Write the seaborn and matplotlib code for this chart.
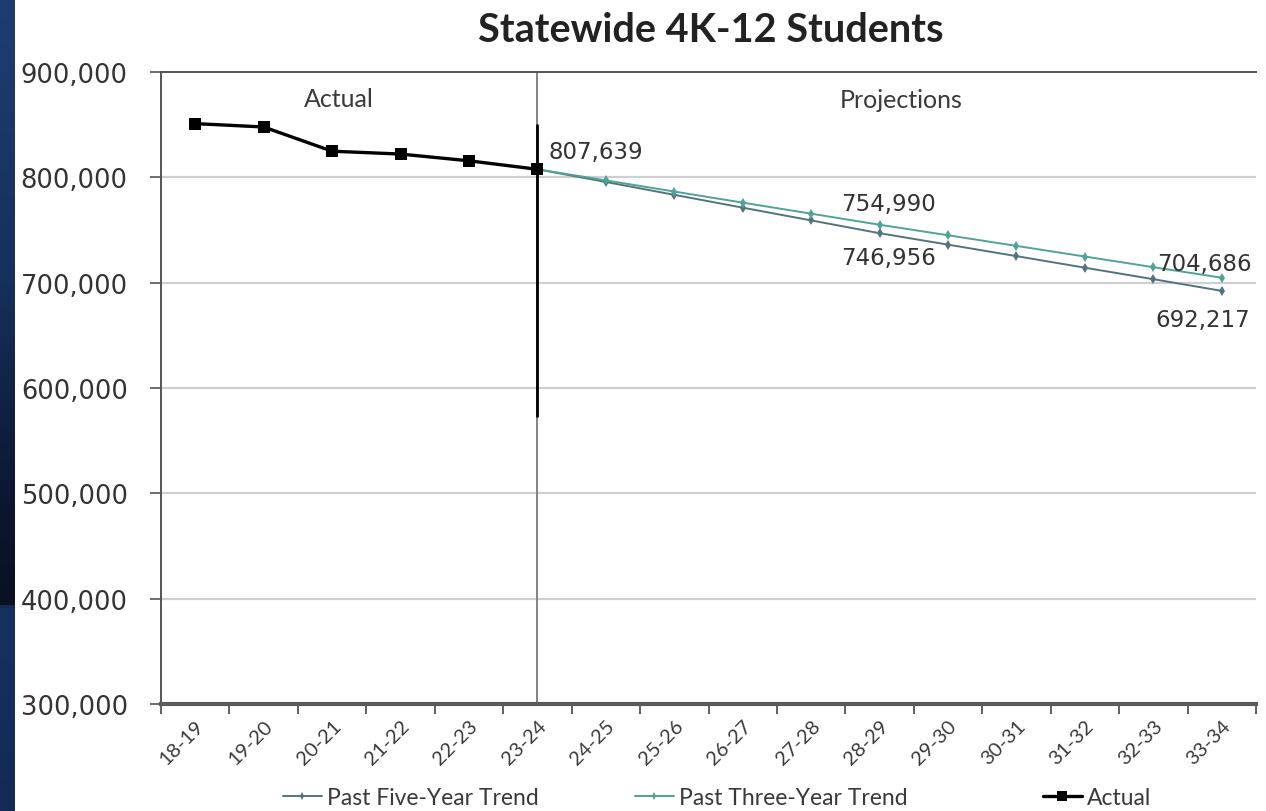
import numpy as np
import pandas as pd
import matplotlib
matplotlib.use("Agg")
import matplotlib.pyplot as plt
from matplotlib.colors import LinearSegmentedColormap
from matplotlib.lines import Line2D
import seaborn as sns

# School years on the category axis
years = ["18-19", "19-20", "20-21", "21-22", "22-23", "23-24", "24-25", "25-26",
         "26-27", "27-28", "28-29", "29-30", "30-31", "31-32", "32-33", "33-34"]

# Enrolled 4K-12 students, actual counts
actual_years = ["18-19", "19-20", "20-21", "21-22", "22-23", "23-24"]
actual_values = [851000, 847800, 824800, 822100, 815700, 807639]

# Projected enrollment from 23-24 onward
proj_years = ["23-24", "24-25", "25-26", "26-27", "27-28", "28-29",
              "29-30", "30-31", "31-32", "32-33", "33-34"]
five_year_values = [807639, 795600, 783400, 771200, 759100, 746956,
                    736100, 725200, 714200, 703300, 692217]
three_year_values = [807639, 797100, 786500, 776000, 765500, 754990,
                     745000, 734900, 724800, 714700, 704686]

# Labelled values on the chart
labels = [("23-24", 807639), ("28-29", 754990), ("28-29", 746956),
          ("33-34", 704686), ("33-34", 692217)]

y_ticks = [300000, 400000, 500000, 600000, 700000, 800000, 900000]

FIVE_COLOR = "#53747f"
THREE_COLOR = "#4fa397"
TEXT_DARK = "#333333"

sns.set_style("white")
plt.rcParams["font.family"] = ["DejaVu Sans"]

pos = {y: i for i, y in enumerate(years)}
df_actual = pd.DataFrame({"x": [pos[y] for y in actual_years], "value": actual_values})
df_five = pd.DataFrame({"x": [pos[y] for y in proj_years], "value": five_year_values})
df_three = pd.DataFrame({"x": [pos[y] for y in proj_years], "value": three_year_values})

W, H = 1266, 812
fig = plt.figure(figsize=(W / 100, H / 100), dpi=100)
fig.patch.set_facecolor("white")

# Slide edge strip on the left
strip = fig.add_axes([0, 0, 15 / W, 1])
cmap = LinearSegmentedColormap.from_list(
    "strip",
    [(0.0, "#1f3d70"), (0.35, "#16305c"), (0.62, "#0c1630"),
     (0.745, "#0a1122"), (0.75, "#17315f"), (1.0, "#132a55")])
strip.imshow(np.linspace(0, 1, 256).reshape(-1, 1), aspect="auto", cmap=cmap,
             extent=[0, 1, 1, 0])
strip.set_axis_off()

ax = fig.add_axes([161 / W, 1 - 705 / H, (1256 - 161) / W, (705 - 73) / H])

# Horizontal grid
for t in y_ticks[1:-1]:
    ax.axhline(t, color="#cfcfcf", lw=1.6, zorder=0)

# Divider between actual and projected years
ax.axvline(pos["23-24"], color="#7a7a7a", lw=1.3, zorder=1)
ax.plot([pos["23-24"], pos["23-24"]], [573000, 850000], color="black", lw=2.0, zorder=2)

sns.lineplot(data=df_five, x="x", y="value", ax=ax, color=FIVE_COLOR, lw=1.4,
             marker="d", markersize=5, markeredgewidth=0, legend=False, zorder=3)
sns.lineplot(data=df_three, x="x", y="value", ax=ax, color=THREE_COLOR, lw=1.4,
             marker="d", markersize=5, markeredgewidth=0, legend=False, zorder=3)
sns.lineplot(data=df_actual, x="x", y="value", ax=ax, color="black", lw=2.4,
             marker="s", markersize=8, markeredgewidth=0, legend=False, zorder=4)

# Value labels (pixel offsets from each point)
offsets = [(11, -18), (-38, -21), (-38, 24), (-65, -14), (-66, 29)]
for (yr, val), (dx, dy) in zip(labels, offsets):
    ax.annotate(f"{val:,}", xy=(pos[yr], val), xytext=(dx, -dy),
                textcoords="offset pixels", ha="left", va="center",
                fontsize=16.5, color=TEXT_DARK, annotation_clip=False)

ax.text(2.1, 874500, "Actual", ha="center", va="center", fontsize=18,
        family="Lato", color="#3a3a3a")
ax.text(10.32, 873500, "Projections", ha="center", va="center", fontsize=18,
        family="Lato", color="#3a3a3a")

ax.set_xlim(-0.5, len(years) - 0.5)
ax.set_ylim(300000, 900000)
ax.set_yticks(y_ticks)
ax.set_yticklabels([f"{t:,}" for t in y_ticks], fontsize=18.5, color=TEXT_DARK)
ax.tick_params(axis="y", direction="out", length=8, width=1.2, color="#555555",
               pad=16, left=True)

ax.set_xticks(range(len(years)))
ax.set_xticklabels(years, rotation=45, ha="right", va="top", rotation_mode="anchor",
                   fontsize=14.5, family="Lato", color="#3a3a3a")
ax.tick_params(axis="x", which="major", length=0, pad=9)
ax.set_xticks(np.arange(-0.5, len(years), 1.0), minor=True)
ax.tick_params(axis="x", which="minor", direction="out", length=7, width=1.2,
               color="#444444", bottom=True)
ax.set_xlabel("")
ax.set_ylabel("")

for side in ["left", "top"]:
    ax.spines[side].set_color("#555555")
    ax.spines[side].set_linewidth(1.4)
ax.spines["bottom"].set_color("#5a5a5a")
ax.spines["bottom"].set_linewidth(3.0)
ax.spines["right"].set_visible(False)

fig.text(711 / W, 1 - 30 / H, "Statewide 4K-12 Students", ha="center", va="center",
         fontsize=28.5, fontweight="bold", family="Lato", color="#222222")

# Legend entries along the bottom
entries = [
    ("Past Five-Year Trend", Line2D([], [], color=FIVE_COLOR, lw=1.4, marker="d",
                                    markersize=4, markeredgewidth=0), 283),
    ("Past Three-Year Trend", Line2D([], [], color=THREE_COLOR, lw=1.4, marker="d",
                                     markersize=4, markeredgewidth=0), 635),
    ("Actual", Line2D([], [], color="black", lw=2.4, marker="s", markersize=7,
                      markeredgewidth=0), 1043),
]
for text, handle, x0 in entries:
    leg = fig.legend([handle], [text], loc="center left",
                     bbox_to_anchor=(x0 / W, 1 - 799 / H), frameon=False,
                     borderpad=0, borderaxespad=0, handlelength=1.7,
                     handletextpad=0.2, prop={"family": "Lato", "size": 16.5})
    for t in leg.get_texts():
        t.set_color("#3a3a3a")

fig.savefig("out.png", dpi=100, facecolor="white")
